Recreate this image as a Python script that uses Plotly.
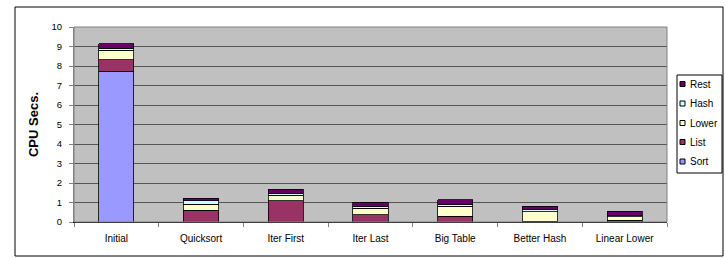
import plotly.graph_objects as go

categories = ["Initial", "Quicksort", "Iter First", "Iter Last", "Big Table", "Better Hash", "Linear Lower"]
sort_vals = [7.73, 0, 0, 0, 0, 0, 0]
list_vals = [0.58, 0.61, 1.10, 0.38, 0.29, 0.05, 0.09]
lower_vals = [0.51, 0.30, 0.26, 0.33, 0.51, 0.48, 0.17]
hash_vals = [0.08, 0.19, 0.10, 0.08, 0.09, 0.09, 0.08]
rest_vals = [0.23, 0.11, 0.23, 0.22, 0.24, 0.20, 0.22]

series = [
    ("Sort", sort_vals, "#9999FF"),
    ("List", list_vals, "#993366"),
    ("Lower", lower_vals, "#FFFFCC"),
    ("Hash", hash_vals, "#CCFFFF"),
    ("Rest", rest_vals, "#660066"),
]

fig = go.Figure()
for name, vals, col in series:
    fig.add_trace(go.Bar(
        x=categories, y=vals, name=name, showlegend=False,
        marker=dict(color=col, line=dict(color="#000000", width=0.8)),
    ))

L, R, T, B = 74, 667, 27, 222
W, H = 725, 258
pw, ph = R - L, B - T


def px(x):
    return (x - L) / pw


def py(y):
    return (B - y) / ph


shapes = [
    dict(type="rect", xref="paper", yref="paper",
         x0=px(15), x1=px(723), y0=py(256), y1=py(7),
         line=dict(color="#000000", width=1), fillcolor="rgba(0,0,0,0)", layer="below"),
    dict(type="rect", xref="paper", yref="paper", x0=0, x1=1, y0=0, y1=1,
         line=dict(color="#808080", width=1), fillcolor="rgba(0,0,0,0)"),
    # legend box
    dict(type="rect", xref="paper", yref="paper",
         x0=px(677), x1=px(722), y0=py(173), y1=py(75),
         line=dict(color="#000000", width=1), fillcolor="#FFFFFF"),
]
annotations = []
legend_y = {"Rest": 84, "Hash": 103.5, "Lower": 123, "List": 142, "Sort": 161.5}
for name, vals, col in series:
    yc = legend_y[name]
    shapes.append(dict(type="rect", xref="paper", yref="paper",
                       x0=px(680), x1=px(685), y0=py(yc + 2.5), y1=py(yc - 2.5),
                       line=dict(color="#000000", width=1), fillcolor=col))
    annotations.append(dict(text=name, xref="paper", yref="paper",
                            x=px(688), y=py(yc), xanchor="left", yanchor="middle",
                            showarrow=False, font=dict(size=10)))

fig.update_layout(
    width=W, height=H,
    margin=dict(l=L, r=W - R, t=T, b=H - B, autoexpand=False),
    barmode="stack", bargap=0.585,
    plot_bgcolor="#C0C0C0", paper_bgcolor="#FFFFFF",
    font=dict(family="Liberation Sans, Arial, sans-serif", size=9, color="#000000"),
    showlegend=False,
    xaxis=dict(
        type="category", tickson="boundaries", ticks="outside", ticklen=4,
        tickcolor="#808080", showline=True, linecolor="#000000", linewidth=1,
        showgrid=False, tickfont=dict(size=10), ticklabelstandoff=7,
    ),
    yaxis=dict(
        range=[0, 10], dtick=1, ticks="outside", ticklen=4, tickcolor="#808080",
        showline=True, linecolor="#808080", linewidth=1,
        showgrid=True, gridcolor="#555555", gridwidth=1,
        zeroline=False, tickfont=dict(size=9.5), ticklabelstandoff=5,
        title=dict(text="<b>CPU Secs.</b>", font=dict(size=13), standoff=9),
    ),
    shapes=shapes,
    annotations=annotations,
)

fig.write_html("out.html", config={"displayModeBar": False},
               post_script="document.body.style.margin='0';document.body.style.overflow='hidden';")
